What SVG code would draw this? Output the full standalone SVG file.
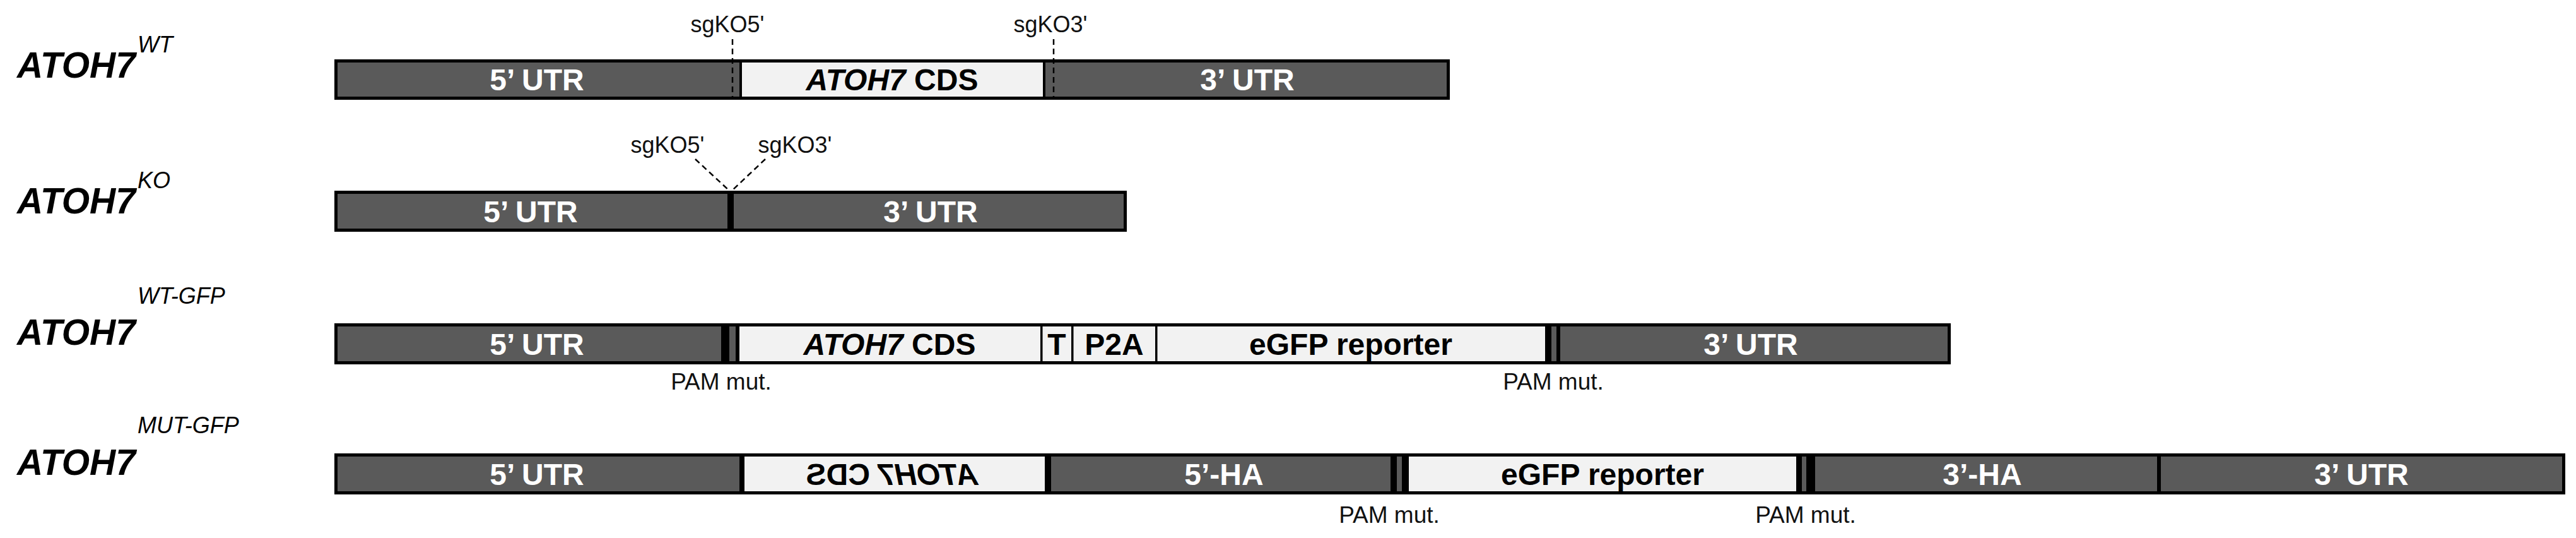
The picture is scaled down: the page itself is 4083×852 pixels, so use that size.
<svg xmlns="http://www.w3.org/2000/svg" width="4083" height="852" viewBox="0 0 4083 852">
<style>
text{font-family:"Liberation Sans",Arial,sans-serif}
.dk{fill:#5a5a5a}
.lt{fill:#f2f2f2}
.bk{fill:#000}
.frame{fill:none;stroke:#000;stroke-width:5}
.seg{font-size:48px;font-weight:bold;text-anchor:middle}
.w{fill:#fff}
.b{fill:#000}
.lab{font-size:58px;font-weight:bold;font-style:italic;fill:#000}
.sup{font-size:36px;font-style:italic;fill:#000}
.sg{font-size:36px;fill:#111;text-anchor:middle}
.pam{font-size:37px;fill:#111;text-anchor:middle}
.dash{stroke:#000;stroke-width:2.5;stroke-dasharray:9 6;fill:none}
</style>
<rect width="4083" height="852" fill="#fff"/>

<!-- Row labels -->
<g id="label-wt"><text class="lab" x="27" y="123" textLength="188" lengthAdjust="spacingAndGlyphs">ATOH7</text><text class="sup" x="218" y="83">WT</text></g>
<g id="label-ko"><text class="lab" x="27" y="338" textLength="188" lengthAdjust="spacingAndGlyphs">ATOH7</text><text class="sup" x="218" y="298">KO</text></g>
<g id="label-wtgfp"><text class="lab" x="27" y="546" textLength="188" lengthAdjust="spacingAndGlyphs">ATOH7</text><text class="sup" x="218" y="481">WT-GFP</text></g>
<g id="label-mutgfp"><text class="lab" x="27" y="752" textLength="188" lengthAdjust="spacingAndGlyphs">ATOH7</text><text class="sup" x="218" y="686">MUT-GFP</text></g>

<!-- Row 1: WT -->
<g id="row-wt">
  <g id="wt-5utr"><rect class="dk" x="530" y="94" width="644" height="64"/><text class="seg w" x="851" y="143">5’ UTR</text></g>
  <g id="wt-cds"><rect class="lt" x="1174" y="94" width="481" height="64"/><text class="seg b" x="1414" y="143"><tspan font-style="italic">ATOH7</tspan> CDS</text></g>
  <g id="wt-3utr"><rect class="dk" x="1655" y="94" width="643" height="64"/><text class="seg w" x="1977" y="143">3’ UTR</text></g>
  <rect class="bk" x="1172" y="94" width="4" height="64"/>
  <rect class="bk" x="1653" y="94" width="4" height="64"/>
  <rect class="frame" x="532.5" y="96.5" width="1763" height="59"/>
  <g id="wt-sg5"><text class="sg" x="1153" y="51">sgKO5'</text></g>
  <g id="wt-sg3"><text class="sg" x="1665" y="51">sgKO3'</text></g>
</g>

<!-- Row 2: KO -->
<g id="row-ko">
  <g id="ko-5utr"><rect class="dk" x="530" y="302" width="628" height="65"/><text class="seg w" x="841" y="352">5’ UTR</text></g>
  <g id="ko-3utr"><rect class="dk" x="1158" y="302" width="628" height="65"/><text class="seg w" x="1475" y="352">3’ UTR</text></g>
  <rect class="bk" x="1153" y="302" width="10" height="65"/>
  <rect class="frame" x="532.5" y="304.5" width="1251" height="60"/>
  <g id="ko-sg5"><text class="sg" x="1058" y="242">sgKO5'</text></g>
  <g id="ko-sg3"><text class="sg" x="1260" y="242">sgKO3'</text></g>
</g>

<!-- Row 3: WT-GFP -->
<g id="row-wtgfp">
  <g id="wg-5utr"><rect class="dk" x="530" y="512" width="613" height="65"/><text class="seg w" x="851" y="562">5’ UTR</text></g>
  <g id="wg-pam1"><rect class="bk" x="1143" y="512" width="13" height="65"/><rect class="dk" x="1156" y="512" width="10" height="65"/><rect class="bk" x="1166" y="512" width="6" height="65"/></g>
  <g id="wg-cds"><rect class="lt" x="1172" y="512" width="478" height="65"/><text class="seg b" x="1410" y="562"><tspan font-style="italic">ATOH7</tspan> CDS</text></g>
  <g id="wg-t"><rect class="lt" x="1650" y="512" width="50" height="65"/><text class="seg b" x="1675" y="562">T</text></g>
  <g id="wg-p2a"><rect class="lt" x="1700" y="512" width="133" height="65"/><text class="seg b" x="1766" y="562">P2A</text></g>
  <g id="wg-egfp"><rect class="lt" x="1833" y="512" width="616" height="65"/><text class="seg b" x="2141" y="562">eGFP reporter</text></g>
  <g id="wg-pam2"><rect class="bk" x="2449" y="512" width="10" height="65"/><rect class="dk" x="2459" y="512" width="8" height="65"/><rect class="bk" x="2467" y="512" width="6" height="65"/></g>
  <g id="wg-3utr"><rect class="dk" x="2473" y="512" width="619" height="65"/><text class="seg w" x="2775" y="562">3’ UTR</text></g>
  <rect class="bk" x="1649" y="512" width="3.5" height="65"/>
  <rect class="bk" x="1698" y="512" width="3.5" height="65"/>
  <rect class="bk" x="1831" y="512" width="3.5" height="65"/>
  <rect class="frame" x="532.5" y="514.5" width="2557" height="60"/>
  <g id="wg-pamlab1"><text class="pam" x="1143" y="617">PAM mut.</text></g>
  <g id="wg-pamlab2"><text class="pam" x="2462" y="617">PAM mut.</text></g>
</g>

<!-- Row 4: MUT-GFP -->
<g id="row-mutgfp">
  <g id="mg-5utr"><rect class="dk" x="530" y="718" width="642" height="65"/><text class="seg w" x="851" y="768">5’ UTR</text></g>
  <g id="mg-cds-rev"><rect class="lt" x="1180" y="718" width="476" height="65"/><text class="seg b" transform="translate(1414,0) scale(-1,1)" x="0" y="768"><tspan font-style="italic">ATOH7</tspan> CDS</text></g>
  <g id="mg-5ha"><rect class="dk" x="1666" y="718" width="538" height="65"/><text class="seg w" x="1940" y="768">5’-HA</text></g>
  <g id="mg-pam1"><rect class="bk" x="2204" y="718" width="10" height="65"/><rect class="dk" x="2214" y="718" width="8" height="65"/><rect class="bk" x="2222" y="718" width="11" height="65"/></g>
  <g id="mg-egfp"><rect class="lt" x="2233" y="718" width="614" height="65"/><text class="seg b" x="2540" y="768">eGFP reporter</text></g>
  <g id="mg-pam2"><rect class="bk" x="2847" y="718" width="9" height="65"/><rect class="dk" x="2856" y="718" width="7" height="65"/><rect class="bk" x="2863" y="718" width="14" height="65"/></g>
  <g id="mg-3ha"><rect class="dk" x="2877" y="718" width="542" height="65"/><text class="seg w" x="3142" y="768">3’-HA</text></g>
  <g id="mg-3utr"><rect class="dk" x="3425" y="718" width="641" height="65"/><text class="seg w" x="3743" y="768">3’ UTR</text></g>
  <rect class="bk" x="1172" y="718" width="8" height="65"/>
  <rect class="bk" x="1656" y="718" width="10" height="65"/>
  <rect class="bk" x="3419" y="718" width="6" height="65"/>
  <rect class="frame" x="532.5" y="720.5" width="3531" height="60"/>
  <g id="mg-pamlab1"><text class="pam" x="2202" y="828">PAM mut.</text></g>
  <g id="mg-pamlab2"><text class="pam" x="2862" y="828">PAM mut.</text></g>
</g>

<!-- Connectors: sgRNA cut-site markers -->
<g id="connectors">
  <line class="dash" x1="1161" y1="62" x2="1161" y2="156"/>
  <line class="dash" x1="1670" y1="62" x2="1670" y2="156"/>
  <line class="dash" x1="1102" y1="252" x2="1156" y2="302"/>
  <line class="dash" x1="1213" y1="252" x2="1160" y2="302"/>
</g>
</svg>
